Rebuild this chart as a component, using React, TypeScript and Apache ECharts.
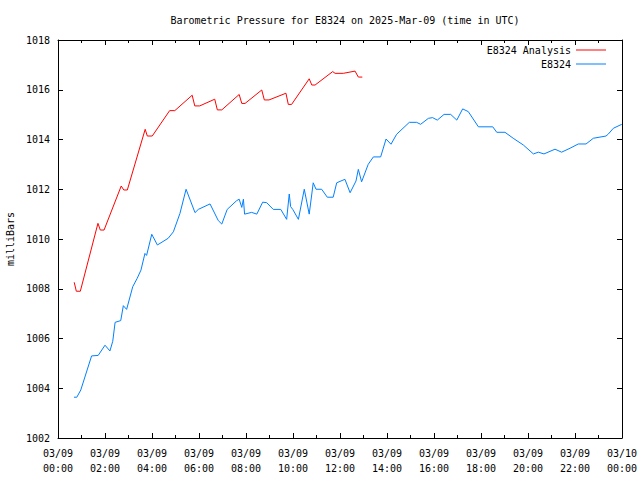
import React, { useEffect, useRef } from "react";
import * as echarts from "echarts";

const titleText = "Barometric Pressure for E8324 on 2025-Mar-09 (time in UTC)";
const yAxisName = "milliBars";
const seriesNames = ["E8324 Analysis", "E8324"];

// hours since 03/09 00:00 UTC
const analysisHours = [0.69, 0.78, 0.95, 1.7, 1.8, 1.96, 2.69, 2.8, 2.95, 3.71, 3.8, 4.01, 4.75, 4.97, 5.71, 5.82, 6.03, 6.67, 6.78, 6.97, 7.71, 7.82, 7.96, 8.67, 8.78, 8.98, 9.7, 9.8, 9.94, 10.69, 10.8, 10.94, 11.69, 11.79, 12.14, 12.64, 12.78, 12.95];
const analysisValues = [1008.26, 1007.9, 1007.9, 1010.63, 1010.36, 1010.36, 1012.13, 1011.97, 1011.97, 1014.41, 1014.14, 1014.14, 1015.16, 1015.16, 1015.78, 1015.35, 1015.35, 1015.62, 1015.19, 1015.19, 1015.81, 1015.45, 1015.45, 1015.99, 1015.59, 1015.59, 1015.86, 1015.41, 1015.41, 1016.44, 1016.19, 1016.19, 1016.73, 1016.66, 1016.66, 1016.75, 1016.51, 1016.51];

const obsHours = [0.68, 0.8, 0.97, 1.43, 1.71, 2.0, 2.21, 2.33, 2.43, 2.67, 2.78, 2.92, 3.18, 3.37, 3.53, 3.7, 3.77, 3.99, 4.23, 4.69, 4.91, 5.19, 5.45, 5.83, 5.97, 6.47, 6.82, 6.97, 7.2, 7.6, 7.71, 7.82, 7.89, 7.94, 8.24, 8.46, 8.71, 8.88, 9.16, 9.48, 9.73, 9.84, 9.9, 9.99, 10.23, 10.48, 10.69, 10.8, 10.86, 10.98, 11.22, 11.46, 11.71, 11.86, 12.21, 12.43, 12.68, 12.78, 12.92, 13.2, 13.42, 13.73, 13.96, 14.17, 14.41, 14.95, 15.26, 15.43, 15.76, 15.94, 16.14, 16.43, 16.71, 16.97, 17.22, 17.46, 17.89, 18.5, 18.67, 19.02, 19.37, 19.8, 20.23, 20.44, 20.68, 21.15, 21.43, 21.79, 22.14, 22.47, 22.78, 23.32, 23.42, 23.63, 23.99];
const obsValues = [1003.64, 1003.64, 1003.93, 1005.3, 1005.32, 1005.73, 1005.5, 1005.89, 1006.65, 1006.72, 1007.32, 1007.17, 1008.08, 1008.42, 1008.75, 1009.42, 1009.34, 1010.19, 1009.76, 1010.03, 1010.29, 1011.03, 1012.0, 1011.06, 1011.19, 1011.41, 1010.74, 1010.6, 1011.19, 1011.54, 1011.6, 1011.27, 1011.6, 1011.0, 1011.07, 1011.0, 1011.48, 1011.46, 1011.19, 1011.19, 1010.79, 1011.81, 1011.3, 1011.19, 1010.79, 1012.0, 1011.0, 1011.81, 1012.26, 1012.0, 1012.0, 1011.68, 1011.68, 1012.26, 1012.4, 1011.86, 1012.33, 1012.8, 1012.3, 1013.0, 1013.3, 1013.3, 1014.02, 1013.81, 1014.21, 1014.69, 1014.69, 1014.61, 1014.85, 1014.88, 1014.78, 1015.01, 1015.01, 1014.78, 1015.23, 1015.12, 1014.51, 1014.51, 1014.29, 1014.29, 1014.05, 1013.78, 1013.42, 1013.49, 1013.42, 1013.61, 1013.49, 1013.65, 1013.82, 1013.82, 1014.05, 1014.14, 1014.22, 1014.45, 1014.61];

const FONT = "DejaVu Sans Mono";

function fmtTime(h: number): string {
  if (h >= 24) return "03/10\n00:00";
  const hh = String(Math.round(h)).padStart(2, "0");
  return "03/09\n" + hh + ":00";
}

export default function App() {
  const ref = useRef<HTMLDivElement>(null);
  useEffect(() => {
    if (!ref.current) return;
    const chart = echarts.init(ref.current, null, { renderer: "svg" });
    const axisLine = { show: true, onZero: false, lineStyle: { color: "#000", width: 1 } };
    const xCommon = {
      type: "value" as const,
      min: 0,
      max: 24,
      interval: 2,
      axisLine,
      axisTick: { show: true, inside: true, length: 5, lineStyle: { color: "#000" } },
      minorTick: { show: true, splitNumber: 2, length: 3, lineStyle: { color: "#000" } },
      splitLine: { show: false },
    };
    const yCommon = {
      type: "value" as const,
      min: 1002,
      max: 1018,
      interval: 2,
      axisLine,
      axisTick: { show: true, inside: true, length: 5, lineStyle: { color: "#000" } },
      splitLine: { show: false },
    };
    chart.setOption({
      animation: false,
      backgroundColor: "#fff",
      title: {
        text: titleText,
        left: 340,
        textAlign: "center",
        top: 10,
        textStyle: { fontFamily: FONT, fontSize: 10, fontWeight: "normal", color: "#000" },
      },
      grid: { left: 58, right: 18, top: 40, bottom: 42, containLabel: false, outerBoundsMode: "none" },
      legend: [
        {
          data: [seriesNames[0]],
          right: 29,
          top: 40,
          align: "right",
          icon: "rect",
          itemWidth: 30,
          itemHeight: 1,
          textStyle: { fontFamily: FONT, fontSize: 10, color: "#000" },
        },
        {
          data: [seriesNames[1]],
          right: 29,
          top: 54,
          align: "right",
          icon: "rect",
          itemWidth: 30,
          itemHeight: 1,
          textStyle: { fontFamily: FONT, fontSize: 10, color: "#000" },
        },
      ],
      xAxis: [
        {
          ...xCommon,
          position: "bottom",
          axisLabel: {
            show: true,
            fontFamily: FONT,
            fontSize: 10,
            color: "#000",
            lineHeight: 15,
            margin: 8,
            formatter: (v: number) => fmtTime(v),
          },
        },
        {
          ...xCommon,
          position: "top",
          axisLabel: { show: false },
        },
      ],
      yAxis: [
        {
          ...yCommon,
          position: "left",
          name: yAxisName,
          nameLocation: "middle",
          nameGap: 42,
          nameRotate: 90,
          nameTextStyle: { fontFamily: FONT, fontSize: 10, color: "#000" },
          axisLabel: {
            show: true,
            fontFamily: FONT,
            fontSize: 10,
            color: "#000",
            margin: 8,
            formatter: (v: number) => String(v),
          },
        },
        {
          ...yCommon,
          position: "right",
          axisLabel: { show: false },
        },
      ],
      series: [
        {
          name: seriesNames[0],
          type: "line",
          xAxisIndex: 0,
          yAxisIndex: 0,
          symbol: "none",
          color: "#ff0000",
          lineStyle: { width: 1, color: "#ff0000" },
          data: analysisHours.map((h, i) => [h, analysisValues[i]]),
        },
        {
          name: seriesNames[1],
          type: "line",
          xAxisIndex: 0,
          yAxisIndex: 0,
          symbol: "none",
          color: "#0080ff",
          lineStyle: { width: 1, color: "#0080ff" },
          data: obsHours.map((h, i) => [h, obsValues[i]]),
        },
      ],
    });
    return () => chart.dispose();
  }, []);
  return (
    <div
      ref={ref}
      style={{ position: "fixed", left: 0, top: 0, width: 640, height: 480, background: "#fff" }}
    />
  );
}
